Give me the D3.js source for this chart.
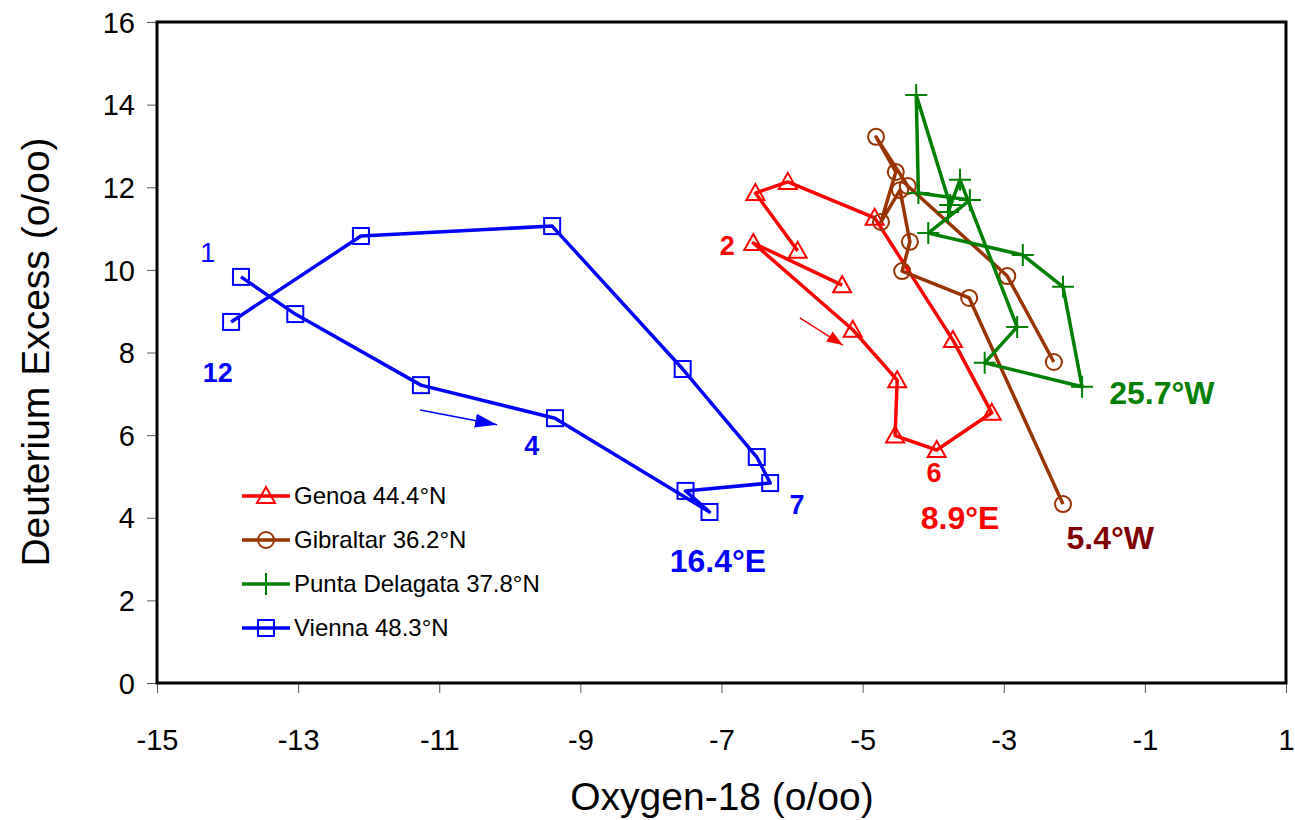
<!DOCTYPE html>
<html>
<head>
<meta charset="utf-8">
<script src="https://cdn.jsdelivr.net/npm/d3@7"></script>
<style>
  body { margin: 0; background: #fff; }
  svg text { font-family: "Liberation Sans", Arial, sans-serif; }
</style>
</head>
<body>
<div id="chart"></div>
<script>
// oxygen-18 (x) and deuterium excess (y) per station, in plotted order
var genoaX = [-5.29, -6.55, -5.14, -4.51, -4.54, -3.95, -3.17, -3.72, -4.83, -6.06, -6.52, -5.92];
var genoaY = [9.63, 10.65, 8.55, 7.33, 5.99, 5.64, 6.54, 8.30, 11.26, 12.13, 11.86, 10.46];

var gibraltarX = [-2.29, -2.95, -4.36, -4.81, -4.53, -4.74, -4.47, -4.33, -4.44, -3.49, -2.16];
var gibraltarY = [7.77, 9.85, 12.03, 13.22, 12.37, 11.16, 11.93, 10.68, 9.97, 9.32, 4.33];

var puntaX = [-3.76, -4.24, -4.21, -3.48, -4.07, -2.73, -2.16, -1.89, -3.27, -2.81, -3.62, -3.79];
var puntaY = [11.57, 14.23, 11.86, 11.69, 10.89, 10.36, 9.59, 7.17, 7.75, 8.62, 12.18, 11.40];

var viennaX = [-13.81, -13.04, -11.26, -9.36, -7.17, -7.51, -6.31, -6.50, -7.55, -9.40, -12.11, -13.95];
var viennaY = [9.83, 8.93, 7.21, 6.41, 4.14, 4.65, 4.84, 5.47, 7.60, 11.06, 10.82, 8.74];

var seriesNames = ['Genoa 44.4\u00b0N', 'Gibraltar 36.2\u00b0N', 'Punta Delagata 37.8\u00b0N', 'Vienna 48.3\u00b0N'];
var xTicks = [-15, -13, -11, -9, -7, -5, -3, -1, 1];
var yTicks = [0, 2, 4, 6, 8, 10, 12, 14, 16];

// month / longitude annotations [x, y, text]
var blueNotes = [[-14.28, 10.19, '1'], [-14.14, 7.29, '12'], [-9.69, 5.52, '4'], [-5.93, 4.09, '7']];
var redNotes = [[-6.92, 10.36, '2'], [-3.99, 4.87, '6']];
var siteNotes = [[-7.05, 2.69, '16.4\u00b0E', '#0000ff'], [-3.62, 3.73, '8.9\u00b0E', '#ff0000'],
                 [-1.49, 3.24, '5.4\u00b0W', '#800000'], [-0.76, 6.75, '25.7\u00b0W', '#008000']];
var arrows = [[-11.27, 6.61, -10.18, 6.25, '#0000ff', 22, 14], [-5.89, 8.84, -5.28, 8.18, '#ff0000', 16, 12]];

var width = 1295, height = 820;
var plotLeft = 157, plotRight = 1286, plotTop = 22, plotBottom = 683;

var svg = d3.select('#chart').append('svg')
    .attr('width', width)
    .attr('height', height);

var x = d3.scaleLinear().domain([-15, 1]).range([plotLeft, plotRight]);
var y = d3.scaleLinear().domain([0, 16]).range([plotBottom, plotTop]);

// tick marks and labels
var xAxis = svg.append('g')
    .attr('transform', 'translate(0,' + plotBottom + ')')
    .call(d3.axisBottom(x).tickValues(xTicks).tickSize(10).tickFormat(function(d) { return String(d); }));
var yAxis = svg.append('g')
    .attr('transform', 'translate(' + plotLeft + ',0)')
    .call(d3.axisLeft(y).tickValues(yTicks).tickSize(10).tickFormat(function(d) { return String(d); }));
[xAxis, yAxis].forEach(function(a) {
    a.select('.domain').remove();
    a.selectAll('line').attr('stroke', '#555').attr('stroke-width', 1);
    a.selectAll('text').attr('fill', '#000').style('font-size', '29px')
        .style('font-family', '"Liberation Sans", Arial, sans-serif');
});
xAxis.selectAll('text').attr('y', 46).attr('dy', '0.71em');
yAxis.selectAll('text').attr('x', -22).attr('dy', '0.35em');

// plot frame
svg.append('rect')
    .attr('x', plotLeft).attr('y', plotTop)
    .attr('width', plotRight - plotLeft).attr('height', plotBottom - plotTop)
    .attr('fill', 'none').attr('stroke', '#000').attr('stroke-width', 3);

svg.append('text')
    .attr('x', 722).attr('y', 810)
    .attr('text-anchor', 'middle').style('font-size', '39px')
    .text('Oxygen-18 (o/oo)');
svg.append('text')
    .attr('transform', 'translate(49,352) rotate(-90)')
    .attr('text-anchor', 'middle').style('font-size', '39px')
    .text('Deuterium Excess (o/oo)');

var series = [
    { xs: genoaX, ys: genoaY, color: '#ff0000', shape: 'tri' },
    { xs: gibraltarX, ys: gibraltarY, color: '#993300', shape: 'circle' },
    { xs: puntaX, ys: puntaY, color: '#008000', shape: 'plus' },
    { xs: viennaX, ys: viennaY, color: '#0000ff', shape: 'square' }
];

function drawMarker(g, shape, color) {
    if (shape == 'tri') {
        g.append('path').attr('d', 'M0,-9L9,7L-9,7Z')
            .attr('fill', 'none').attr('stroke', color).attr('stroke-width', 2);
    } else if (shape == 'circle') {
        g.append('circle').attr('r', 8)
            .attr('fill', 'none').attr('stroke', color).attr('stroke-width', 2);
    } else if (shape == 'plus') {
        g.append('path').attr('d', 'M-11,0H11M0,-11V11')
            .attr('stroke', color).attr('stroke-width', 2);
    } else {
        g.append('rect').attr('x', -8).attr('y', -8).attr('width', 16).attr('height', 16)
            .attr('fill', 'none').attr('stroke', color).attr('stroke-width', 2);
    }
}

var line = d3.line()
    .x(function(d) { return x(d[0]); })
    .y(function(d) { return y(d[1]); });

series.forEach(function(s) {
    var pts = s.xs.map(function(v, i) { return [v, s.ys[i]]; });
    svg.append('path')
        .datum(pts)
        .attr('d', line)
        .attr('fill', 'none')
        .attr('stroke', s.color)
        .attr('stroke-width', 3.5)
        .attr('stroke-linejoin', 'round');
    svg.selectAll(null)
        .data(pts)
        .enter()
        .append('g')
        .attr('transform', function(d) { return 'translate(' + x(d[0]) + ',' + y(d[1]) + ')'; })
        .each(function() { drawMarker(d3.select(this), s.shape, s.color); });
});

// arrows
var defs = svg.append('defs');
arrows.forEach(function(a, i) {
    defs.append('marker')
        .attr('id', 'arr' + i)
        .attr('viewBox', '0 0 10 10')
        .attr('refX', 10).attr('refY', 5)
        .attr('markerWidth', a[5]).attr('markerHeight', a[6])
        .attr('markerUnits', 'userSpaceOnUse')
        .attr('orient', 'auto')
        .attr('preserveAspectRatio', 'none')
        .append('path').attr('d', 'M0,0L10,5L0,10Z').attr('fill', a[4]);
    svg.append('line')
        .attr('x1', x(a[0])).attr('y1', y(a[1]))
        .attr('x2', x(a[2])).attr('y2', y(a[3]))
        .attr('stroke', a[4]).attr('stroke-width', 1.5)
        .attr('marker-end', 'url(#arr' + i + ')');
});

// annotations
blueNotes.forEach(function(n, i) {
    svg.append('text').attr('x', x(n[0])).attr('y', y(n[1]))
        .attr('text-anchor', 'middle').attr('fill', '#0000ff')
        .style('font-size', '27px').style('font-weight', i == 0 ? 'normal' : 'bold')
        .text(n[2]);
});
redNotes.forEach(function(n) {
    svg.append('text').attr('x', x(n[0])).attr('y', y(n[1]))
        .attr('text-anchor', 'middle').attr('fill', '#ff0000')
        .style('font-size', '27px').style('font-weight', 'bold')
        .text(n[2]);
});
siteNotes.forEach(function(n) {
    svg.append('text').attr('x', x(n[0])).attr('y', y(n[1]))
        .attr('text-anchor', 'middle').attr('fill', n[3])
        .style('font-size', '32px').style('font-weight', 'bold')
        .text(n[2]);
});

// legend
var legend = svg.selectAll('.legend')
    .data(series)
    .enter()
    .append('g')
    .attr('class', 'legend')
    .attr('transform', function(d, i) { return 'translate(242,' + (496 + i * 44) + ')'; });
legend.append('line')
    .attr('x1', 0).attr('x2', 48)
    .attr('stroke', function(d) { return d.color; })
    .attr('stroke-width', 3.5);
legend.each(function(d) {
    var m = d3.select(this).append('g').attr('transform', 'translate(24,0)');
    drawMarker(m, d.shape, d.color);
});
legend.append('text')
    .attr('x', 52).attr('dy', '0.35em')
    .style('font-size', '24px')
    .text(function(d, i) { return seriesNames[i]; });
</script>
</body>
</html>
